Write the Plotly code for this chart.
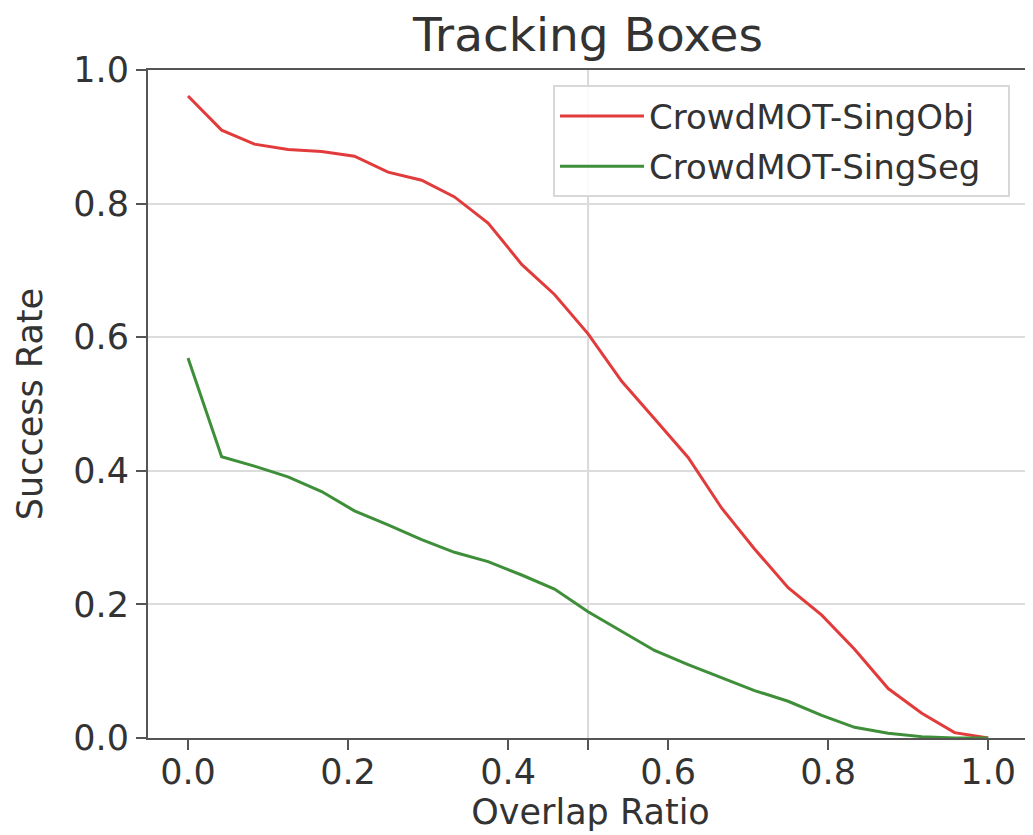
import plotly.graph_objects as go

overlap = [0.0, 0.042, 0.083, 0.125, 0.167, 0.208, 0.25, 0.292, 0.333, 0.375, 0.417, 0.458,
           0.5, 0.542, 0.583, 0.625, 0.667, 0.708, 0.75, 0.792, 0.833, 0.875, 0.917, 0.958, 1.0]
sing_obj = [0.961, 0.910, 0.889, 0.881, 0.878, 0.871, 0.847, 0.835, 0.810, 0.771, 0.709, 0.664,
            0.605, 0.534, 0.478, 0.420, 0.344, 0.283, 0.225, 0.184, 0.133, 0.074, 0.037, 0.008, 0.0]
sing_seg = [0.569, 0.421, 0.407, 0.391, 0.369, 0.340, 0.319, 0.297, 0.278, 0.264, 0.244, 0.223,
            0.189, 0.160, 0.131, 0.110, 0.090, 0.071, 0.055, 0.034, 0.016, 0.007, 0.002, 0.0, 0.0]

x_ticks = [0.0, 0.2, 0.4, 0.5, 0.6, 0.8, 1.0]
x_labels = ["0.0", "0.2", "0.4", "", "0.6", "0.8", "1.0"]
y_ticks = [0.0, 0.2, 0.4, 0.6, 0.8, 1.0]
y_labels = ["0.0", "0.2", "0.4", "0.6", "0.8", "1.0"]

FONT = "DejaVu Sans"
TXT = "#333333"
AX = "#555555"
PAD = "\u00a0\u00a0"

fig = go.Figure()
fig.add_trace(go.Scatter(x=overlap, y=sing_obj, mode="lines", name="CrowdMOT-SingObj" + PAD,
                         legendgroup="a", line=dict(color="#e23b3b", width=3)))
fig.add_trace(go.Scatter(x=overlap, y=sing_seg, mode="lines", name="CrowdMOT-SingSeg" + PAD,
                         legendgroup="b", line=dict(color="#3f8f3a", width=3)))

fig.add_vline(x=0.5, line=dict(color="#d9d9d9", width=2), layer="below")

# The page body has an 8px margin: the figure is sized and placed to compensate.
fig.update_layout(
    width=1025, height=827,
    margin=dict(l=140, r=0, t=62, b=97),
    paper_bgcolor="white", plot_bgcolor="white",
    font=dict(family=FONT, color=TXT, size=35),
    title=dict(text="Tracking Boxes", x=(580 / 1025), xanchor="center",
               y=1 - 27 / 827, yanchor="middle", yref="container",
               font=dict(size=47, family=FONT, color=TXT)),
    showlegend=True,
    legend=dict(x=0.974, y=0.977, xanchor="right", yanchor="top",
                bgcolor="rgba(255,255,255,0.85)", bordercolor="#d8d8d8", borderwidth=2,
                font=dict(size=34, family=FONT, color=TXT), itemwidth=84,
                traceorder="grouped", tracegroupgap=3),
    xaxis=dict(range=[-0.05, 1.056], tickvals=x_ticks, ticktext=x_labels,
               showgrid=False, zeroline=False, showline=True, linecolor=AX, linewidth=2,
               mirror=True, ticks="outside", ticklen=10, tickwidth=2, tickcolor=AX,
               ticklabelstandoff=-8,
               tickfont=dict(size=35, family=FONT, color=TXT),
               title=dict(text="Overlap Ratio", standoff=8, font=dict(size=35, family=FONT, color=TXT))),
    yaxis=dict(range=[0, 1], tickvals=y_ticks, ticktext=y_labels,
               showgrid=True, gridcolor="#dcdcdc", gridwidth=2, zeroline=False,
               showline=True, linecolor=AX, linewidth=2, mirror=False,
               ticks="outside", ticklen=10, tickwidth=2, tickcolor=AX,
               tickfont=dict(size=35, family=FONT, color=TXT),
               title=dict(text="Success Rate", standoff=20, font=dict(size=35, family=FONT, color=TXT))),
)

fig.write_html("out.html")
